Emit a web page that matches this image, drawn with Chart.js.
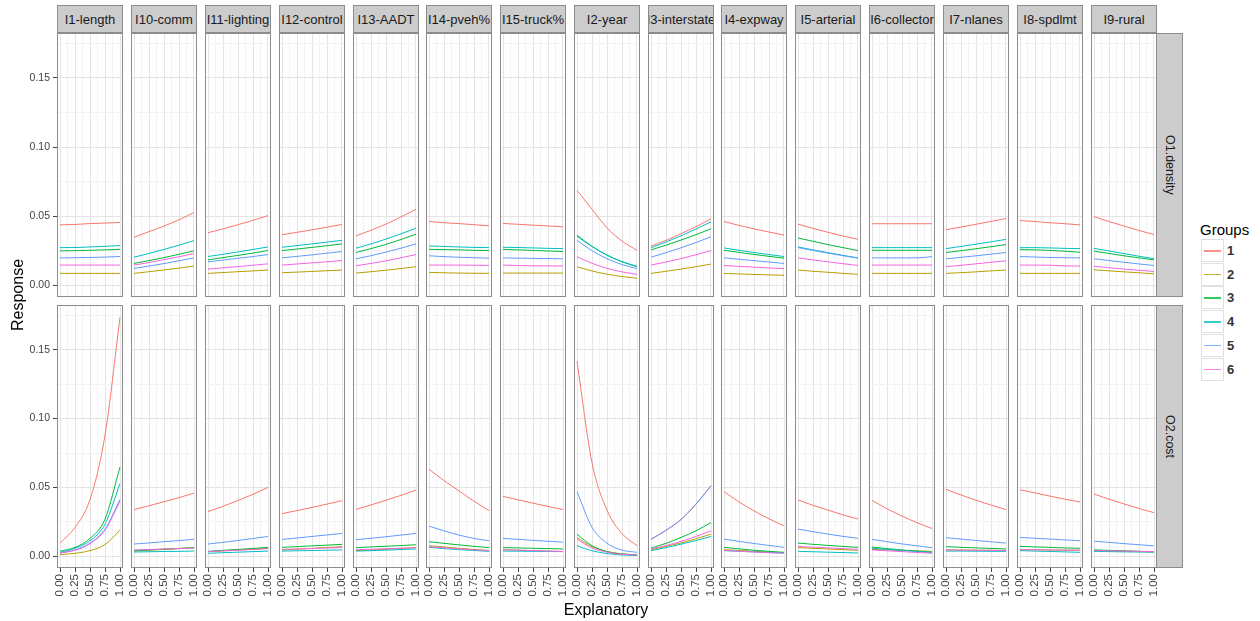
<!DOCTYPE html>
<html lang="en">
<head>
<meta charset="UTF-8">
<title>Response by explanatory variable and group</title>
<style>
  body { margin: 0; background: #fff; font-family: "Liberation Sans", Arial, sans-serif; }
  #wrap { position: relative; width: 1260px; height: 621px; overflow: hidden; }
  canvas { position: absolute; }
  .strip { position: absolute; background: #CCCCCC; border: 1px solid #8C8C8C; box-sizing: border-box;
           overflow: hidden; white-space: nowrap; display: flex; justify-content: center; align-items: center;
           font-size: 13px; color: #1A1A1A; }
  .strip.side { writing-mode: vertical-rl; font-size: 12.5px; }
  .title { position: absolute; font-size: 16px; color: #000; white-space: nowrap; }
  .legend-title { position: absolute; left: 1200px; top: 221px; font-size: 15px; color: #000; }
  .key { position: absolute; left: 1201px; width: 23px; height: 23px; box-sizing: border-box; border: 1px solid #E0E0E0; background: #fff; }
  .key span { position: absolute; left: 2px; right: 2px; top: 10px; height: 1.5px; opacity: 0.8; }
  .key-label { position: absolute; left: 1227px; font-size: 13px; color: #333; font-weight: bold; }
</style>
</head>
<body>
<div id="wrap"></div>

<script src="https://cdn.jsdelivr.net/npm/chart.js"></script>
<script>
  // facets
  const inputNames = ['I1-length', 'I10-comm', 'I11-lighting', 'I12-control', 'I13-AADT', 'I14-pveh%', 'I15-truck%',
                      'I2-year', 'I3-interstate', 'I4-expway', 'I5-arterial', 'I6-collector', 'I7-nlanes', 'I8-spdlmt', 'I9-rural'];
  const outcomeNames = ['O1.density', 'O2.cost'];
  const groupNames = ['1', '2', '3', '4', '5', '6'];
  const groupColors = ['#F8766D', '#B79F00', '#00BA38', '#00BFC4', '#619CFF', '#F564E3'];
  const xValues = [0, 0.25, 0.5, 0.75, 1];
  const xTicks = [0, 0.125, 0.25, 0.375, 0.5, 0.625, 0.75, 0.875, 1];
  const yTicks = [0, 0.025, 0.05, 0.075, 0.1, 0.125, 0.15, 0.175];

  // O1.density, one row per input (same order as inputNames)
  const densityG1 = [
    [0.0437, 0.0440, 0.0446, 0.0450, 0.0454], [0.0347, 0.0388, 0.0428, 0.0474, 0.0526], [0.0380, 0.0408, 0.0438, 0.0470, 0.0504],
    [0.0366, 0.0383, 0.0401, 0.0420, 0.0440], [0.0358, 0.0398, 0.0443, 0.0494, 0.0550], [0.0461, 0.0452, 0.0446, 0.0438, 0.0430],
    [0.0447, 0.0441, 0.0435, 0.0429, 0.0423], [0.0686, 0.0550, 0.0415, 0.0320, 0.0253], [0.0284, 0.0325, 0.0373, 0.0424, 0.0480],
    [0.0461, 0.0433, 0.0408, 0.0385, 0.0363], [0.0442, 0.0411, 0.0383, 0.0356, 0.0332], [0.0445, 0.0445, 0.0445, 0.0445, 0.0445],
    [0.0402, 0.0421, 0.0441, 0.0462, 0.0483], [0.0468, 0.0461, 0.0452, 0.0445, 0.0437], [0.0496, 0.0461, 0.0428, 0.0396, 0.0367]
  ];
  const densityG2 = [
    [0.0086, 0.0086, 0.0086, 0.0086, 0.0086], [0.0086, 0.0098, 0.0111, 0.0124, 0.0139], [0.0086, 0.0092, 0.0098, 0.0104, 0.0110],
    [0.0091, 0.0095, 0.0100, 0.0105, 0.0110], [0.0088, 0.0098, 0.0109, 0.0121, 0.0134], [0.0093, 0.0090, 0.0088, 0.0087, 0.0086],
    [0.0088, 0.0088, 0.0088, 0.0088, 0.0088], [0.0134, 0.0103, 0.0080, 0.0063, 0.0050], [0.0086, 0.0101, 0.0117, 0.0134, 0.0153],
    [0.0086, 0.0082, 0.0078, 0.0075, 0.0072], [0.0110, 0.0101, 0.0094, 0.0086, 0.0079], [0.0086, 0.0086, 0.0086, 0.0086, 0.0086],
    [0.0086, 0.0091, 0.0097, 0.0104, 0.0110], [0.0086, 0.0086, 0.0086, 0.0086, 0.0086], [0.0112, 0.0104, 0.0097, 0.0090, 0.0083]
  ];
  const densityG3 = [
    [0.0249, 0.0250, 0.0253, 0.0256, 0.0260], [0.0158, 0.0178, 0.0200, 0.0224, 0.0249], [0.0184, 0.0200, 0.0216, 0.0233, 0.0251],
    [0.0251, 0.0262, 0.0274, 0.0286, 0.0299], [0.0237, 0.0265, 0.0296, 0.0331, 0.0370], [0.0260, 0.0258, 0.0256, 0.0253, 0.0251],
    [0.0260, 0.0256, 0.0252, 0.0248, 0.0244], [0.0361, 0.0282, 0.0218, 0.0170, 0.0134], [0.0256, 0.0290, 0.0327, 0.0366, 0.0409],
    [0.0253, 0.0238, 0.0223, 0.0209, 0.0196], [0.0342, 0.0318, 0.0294, 0.0272, 0.0251], [0.0253, 0.0253, 0.0253, 0.0253, 0.0253],
    [0.0237, 0.0250, 0.0264, 0.0279, 0.0294], [0.0258, 0.0256, 0.0252, 0.0246, 0.0239], [0.0247, 0.0230, 0.0213, 0.0198, 0.0184]
  ];
  const densityG4 = [
    [0.0272, 0.0273, 0.0277, 0.0282, 0.0287], [0.0203, 0.0230, 0.0259, 0.0290, 0.0323], [0.0208, 0.0224, 0.0241, 0.0259, 0.0277],
    [0.0275, 0.0287, 0.0299, 0.0312, 0.0325], [0.0268, 0.0299, 0.0334, 0.0372, 0.0413], [0.0284, 0.0281, 0.0277, 0.0274, 0.0272],
    [0.0275, 0.0273, 0.0270, 0.0267, 0.0265], [0.0354, 0.0280, 0.0218, 0.0171, 0.0136], [0.0272, 0.0313, 0.0358, 0.0407, 0.0459],
    [0.0270, 0.0253, 0.0237, 0.0222, 0.0208], [0.0277, 0.0256, 0.0236, 0.0216, 0.0198], [0.0272, 0.0272, 0.0272, 0.0272, 0.0272],
    [0.0265, 0.0281, 0.0297, 0.0314, 0.0332], [0.0272, 0.0272, 0.0270, 0.0267, 0.0265], [0.0267, 0.0248, 0.0229, 0.0210, 0.0192]
  ];
  const densityG5 = [
    [0.0198, 0.0199, 0.0201, 0.0204, 0.0208], [0.0122, 0.0139, 0.0157, 0.0177, 0.0198], [0.0170, 0.0182, 0.0195, 0.0208, 0.0222],
    [0.0198, 0.0209, 0.0220, 0.0232, 0.0244], [0.0191, 0.0214, 0.0240, 0.0268, 0.0299], [0.0213, 0.0207, 0.0203, 0.0199, 0.0196],
    [0.0198, 0.0196, 0.0195, 0.0193, 0.0191], [0.0325, 0.0250, 0.0192, 0.0150, 0.0120], [0.0203, 0.0236, 0.0271, 0.0309, 0.0351],
    [0.0198, 0.0188, 0.0178, 0.0168, 0.0158], [0.0272, 0.0252, 0.0232, 0.0214, 0.0196], [0.0198, 0.0198, 0.0198, 0.0198, 0.0207],
    [0.0191, 0.0202, 0.0213, 0.0225, 0.0237], [0.0208, 0.0204, 0.0201, 0.0199, 0.0198], [0.0192, 0.0179, 0.0166, 0.0154, 0.0143]
  ];
  const densityG6 = [
    [0.0146, 0.0146, 0.0146, 0.0146, 0.0146], [0.0146, 0.0164, 0.0185, 0.0206, 0.0229], [0.0117, 0.0126, 0.0135, 0.0145, 0.0155],
    [0.0146, 0.0154, 0.0162, 0.0170, 0.0179], [0.0141, 0.0158, 0.0177, 0.0199, 0.0222], [0.0146, 0.0146, 0.0146, 0.0145, 0.0143],
    [0.0146, 0.0143, 0.0141, 0.0140, 0.0139], [0.0206, 0.0159, 0.0122, 0.0097, 0.0079], [0.0146, 0.0168, 0.0193, 0.0221, 0.0251],
    [0.0143, 0.0137, 0.0131, 0.0125, 0.0120], [0.0198, 0.0183, 0.0169, 0.0156, 0.0143], [0.0146, 0.0146, 0.0146, 0.0146, 0.0146],
    [0.0134, 0.0144, 0.0155, 0.0166, 0.0177], [0.0146, 0.0146, 0.0145, 0.0140, 0.0139], [0.0137, 0.0127, 0.0117, 0.0108, 0.0100]
  ];

  // O2.cost
  const costG1 = [
    [0.0096, 0.0210, 0.0413, 0.0880, 0.1736], [0.0339, 0.0367, 0.0396, 0.0426, 0.0459], [0.0325, 0.0363, 0.0405, 0.0450, 0.0500],
    [0.0310, 0.0332, 0.0355, 0.0379, 0.0404], [0.0341, 0.0373, 0.0407, 0.0443, 0.0481], [0.0632, 0.0550, 0.0475, 0.0400, 0.0332],
    [0.0435, 0.0410, 0.0386, 0.0362, 0.0339], [0.1416, 0.0680, 0.0335, 0.0165, 0.0077], [0.0125, 0.0190, 0.0268, 0.0380, 0.0514],
    [0.0469, 0.0395, 0.0330, 0.0272, 0.0221], [0.0409, 0.0370, 0.0335, 0.0301, 0.0270], [0.0406, 0.0345, 0.0292, 0.0244, 0.0202],
    [0.0486, 0.0445, 0.0407, 0.0372, 0.0339], [0.0483, 0.0460, 0.0437, 0.0415, 0.0394], [0.0452, 0.0415, 0.0380, 0.0347, 0.0317]
  ];
  const costG2 = [
    [0.0012, 0.0022, 0.0041, 0.0085, 0.0190], [0.0038, 0.0044, 0.0050, 0.0056, 0.0062], [0.0034, 0.0040, 0.0046, 0.0052, 0.0058],
    [0.0046, 0.0052, 0.0058, 0.0064, 0.0070], [0.0041, 0.0046, 0.0051, 0.0057, 0.0063], [0.0077, 0.0068, 0.0058, 0.0050, 0.0043],
    [0.0048, 0.0044, 0.0041, 0.0037, 0.0034], [0.0137, 0.0070, 0.0035, 0.0018, 0.0010], [0.0048, 0.0072, 0.0097, 0.0127, 0.0161],
    [0.0048, 0.0042, 0.0036, 0.0031, 0.0026], [0.0063, 0.0058, 0.0053, 0.0048, 0.0043], [0.0050, 0.0046, 0.0043, 0.0040, 0.0036],
    [0.0046, 0.0045, 0.0044, 0.0043, 0.0042], [0.0048, 0.0047, 0.0046, 0.0045, 0.0044], [0.0040, 0.0038, 0.0036, 0.0034, 0.0033]
  ];
  const costG3 = [
    [0.0036, 0.0065, 0.0130, 0.0270, 0.0649], [0.0041, 0.0046, 0.0052, 0.0057, 0.0063], [0.0036, 0.0043, 0.0050, 0.0057, 0.0065],
    [0.0065, 0.0070, 0.0076, 0.0081, 0.0087], [0.0063, 0.0068, 0.0073, 0.0078, 0.0084], [0.0106, 0.0094, 0.0083, 0.0072, 0.0063],
    [0.0063, 0.0061, 0.0058, 0.0056, 0.0053], [0.0161, 0.0077, 0.0034, 0.0017, 0.0010], [0.0060, 0.0094, 0.0137, 0.0185, 0.0245],
    [0.0065, 0.0054, 0.0044, 0.0036, 0.0029], [0.0096, 0.0087, 0.0079, 0.0072, 0.0065], [0.0067, 0.0056, 0.0046, 0.0037, 0.0029],
    [0.0070, 0.0065, 0.0061, 0.0057, 0.0053], [0.0072, 0.0068, 0.0065, 0.0061, 0.0058], [0.0047, 0.0043, 0.0040, 0.0036, 0.0033]
  ];
  const costG4 = [
    [0.0029, 0.0058, 0.0113, 0.0233, 0.0529], [0.0031, 0.0033, 0.0035, 0.0036, 0.0038], [0.0022, 0.0026, 0.0030, 0.0034, 0.0038],
    [0.0038, 0.0040, 0.0042, 0.0044, 0.0046], [0.0038, 0.0041, 0.0045, 0.0049, 0.0053], [0.0065, 0.0056, 0.0048, 0.0042, 0.0036],
    [0.0038, 0.0037, 0.0036, 0.0035, 0.0034], [0.0077, 0.0040, 0.0020, 0.0010, 0.0005], [0.0041, 0.0063, 0.0088, 0.0114, 0.0144],
    [0.0041, 0.0036, 0.0032, 0.0028, 0.0024], [0.0036, 0.0033, 0.0030, 0.0027, 0.0024], [0.0058, 0.0050, 0.0042, 0.0035, 0.0029],
    [0.0038, 0.0038, 0.0037, 0.0036, 0.0036], [0.0041, 0.0038, 0.0035, 0.0032, 0.0029], [0.0036, 0.0034, 0.0032, 0.0031, 0.0030]
  ];
  const costG5 = [
    [0.0024, 0.0046, 0.0096, 0.0197, 0.0413], [0.0089, 0.0097, 0.0106, 0.0114, 0.0123], [0.0089, 0.0101, 0.0115, 0.0129, 0.0144],
    [0.0123, 0.0133, 0.0144, 0.0155, 0.0166], [0.0120, 0.0131, 0.0142, 0.0154, 0.0166], [0.0219, 0.0185, 0.0154, 0.0130, 0.0113],
    [0.0130, 0.0123, 0.0116, 0.0109, 0.0103], [0.0469, 0.0210, 0.0095, 0.0045, 0.0029], [0.0123, 0.0188, 0.0266, 0.0378, 0.0512],
    [0.0125, 0.0108, 0.0093, 0.0079, 0.0065], [0.0197, 0.0179, 0.0161, 0.0145, 0.0130], [0.0123, 0.0106, 0.0090, 0.0076, 0.0063],
    [0.0135, 0.0125, 0.0115, 0.0105, 0.0096], [0.0137, 0.0131, 0.0125, 0.0119, 0.0113], [0.0110, 0.0101, 0.0092, 0.0084, 0.0076]
  ];
  const costG6 = [
    [0.0024, 0.0044, 0.0092, 0.0190, 0.0400], [0.0046, 0.0049, 0.0053, 0.0056, 0.0060], [0.0034, 0.0039, 0.0044, 0.0049, 0.0055],
    [0.0050, 0.0053, 0.0056, 0.0060, 0.0063], [0.0048, 0.0051, 0.0055, 0.0059, 0.0063], [0.0070, 0.0062, 0.0054, 0.0047, 0.0041],
    [0.0048, 0.0045, 0.0041, 0.0038, 0.0035], [0.0125, 0.0060, 0.0030, 0.0015, 0.0008], [0.0053, 0.0078, 0.0108, 0.0144, 0.0185],
    [0.0043, 0.0037, 0.0031, 0.0026, 0.0022], [0.0072, 0.0066, 0.0061, 0.0056, 0.0051], [0.0046, 0.0040, 0.0034, 0.0028, 0.0022],
    [0.0046, 0.0045, 0.0044, 0.0043, 0.0042], [0.0048, 0.0047, 0.0046, 0.0045, 0.0044], [0.0042, 0.0040, 0.0038, 0.0036, 0.0034]
  ];

  const outcomeData = [
    [densityG1, densityG2, densityG3, densityG4, densityG5, densityG6],
    [costG1, costG2, costG3, costG4, costG5, costG6]
  ];

  // layout (px)
  const colLeft = i => Math.round(57.3 + i * 73.8);
  const panelW = 66;
  const rowTop = [33, 305];
  const rowH = [264, 263];
  const yAxisW = 40;
  const xAxisH = 36;
  const sidePad = 8;   // room for the rotated 0.00 / 1.00 labels at panel edges

  const wrap = document.getElementById('wrap');
  const isMajor = v => Math.abs(v / 0.25 - Math.round(v / 0.25)) < 1e-6;
  const isMajorY = v => Math.abs(v / 0.05 - Math.round(v / 0.05)) < 1e-6;
  const tickFont = '"Liberation Sans", Arial, sans-serif';

  const panelBorder = {
    id: 'panelBorder',
    afterDraw(chart) {
      const a = chart.chartArea, ctx = chart.ctx;
      ctx.save();
      ctx.strokeStyle = '#8C8C8C';
      ctx.lineWidth = 1;
      ctx.strokeRect(Math.round(a.left) + 0.5, Math.round(a.top) + 0.5,
                     Math.round(a.right - a.left) - 1, Math.round(a.bottom - a.top) - 1);
      ctx.restore();
    }
  };

  function addDiv(cls, text, style) {
    const d = document.createElement('div');
    d.className = cls;
    if (text !== null) d.textContent = text;
    Object.assign(d.style, style);
    wrap.appendChild(d);
    return d;
  }

  outcomeData.forEach((groups, r) => {
    inputNames.forEach((name, c) => {
      const showY = c === 0, showX = r === 1;
      const padL = showX && !showY ? sidePad : 0;
      const padR = showX ? sidePad : 0;
      const left = colLeft(c) - (showY ? yAxisW : 0) - padL;
      const w = panelW + (showY ? yAxisW : 0) + padL + padR;
      const h = rowH[r] + (showX ? xAxisH : 0);

      const cv = document.createElement('canvas');
      cv.width = w; cv.height = h;
      cv.style.left = left + 'px';
      cv.style.top = rowTop[r] + 'px';
      wrap.appendChild(cv);

      new Chart(cv.getContext('2d'), {
        type: 'line',
        data: {
          datasets: groups.map((g, k) => ({
            label: groupNames[k],
            data: xValues.map((x, j) => ({ x: x, y: g[c][j] })),
            borderColor: groupColors[k],
            borderWidth: 1,
            pointRadius: 0,
            cubicInterpolationMode: 'monotone',
            order: groupNames.length - k
          }))
        },
        options: {
          responsive: false,
          animation: false,
          devicePixelRatio: 1,
          layout: { padding: { left: padL, right: padR, top: 0, bottom: 0 } },
          plugins: { legend: { display: false }, tooltip: { enabled: false } },
          scales: {
            x: {
              type: 'linear', min: -0.05, max: 1.05,
              afterBuildTicks: s => { s.ticks = xTicks.map(v => ({ value: v })); },
              afterFit: s => { s.height = showX ? xAxisH : 0; s.paddingLeft = 0; s.paddingRight = 0; },
              border: { display: false },
              grid: {
                color: ctx => isMajor(ctx.tick.value) ? '#E4E4E4' : '#F3F3F3',
                lineWidth: 1,
                drawTicks: showX, tickLength: 4,
                tickColor: ctx => isMajor(ctx.tick.value) ? '#444' : 'rgba(0,0,0,0)'
              },
              ticks: {
                display: showX, autoSkip: false, maxRotation: 90, minRotation: 90, padding: 2,
                font: { size: 11.5, family: tickFont }, color: '#444',
                callback: v => isMajor(v) ? v.toFixed(2) : ''
              }
            },
            y: {
              type: 'linear', min: -0.0085, max: 0.1825,
              afterBuildTicks: s => { s.ticks = yTicks.map(v => ({ value: v })); },
              afterFit: s => { s.width = showY ? yAxisW : 0; s.paddingTop = 0; s.paddingBottom = 0; },
              border: { display: false },
              grid: {
                color: ctx => isMajorY(ctx.tick.value) ? '#E4E4E4' : '#F3F3F3',
                lineWidth: 1,
                drawTicks: showY, tickLength: 4,
                tickColor: ctx => isMajorY(ctx.tick.value) ? '#444' : 'rgba(0,0,0,0)'
              },
              ticks: {
                display: showY, padding: 3,
                font: { size: 10.5, family: tickFont }, color: '#444',
                callback: v => isMajorY(v) ? v.toFixed(2) : ''
              }
            }
          }
        },
        plugins: [panelBorder]
      });

      if (r === 0) {
        addDiv('strip', name, { left: colLeft(c) + 'px', top: '5px', width: panelW + 'px', height: '28px' });
      }
    });

    addDiv('strip side', outcomeNames[r], { left: '1156px', top: rowTop[r] + 'px', width: '27px', height: rowH[r] + 'px' });
  });

  // axis titles
  addDiv('title', 'Response', { left: '-14px', top: '290px', width: '64px', textAlign: 'center', transform: 'rotate(-90deg)' });
  addDiv('title', 'Explanatory', { left: '556px', top: '601px', width: '100px', textAlign: 'center' });

  // legend
  addDiv('legend-title', 'Groups', {});
  groupNames.forEach((g, k) => {
    const top = 239 + k * 23.7;
    const key = addDiv('key', null, { top: top + 'px' });
    const line = document.createElement('span');
    line.style.background = groupColors[k];
    key.appendChild(line);
    addDiv('key-label', g, { top: (top + 4) + 'px' });
  });
</script>
</body>
</html>
